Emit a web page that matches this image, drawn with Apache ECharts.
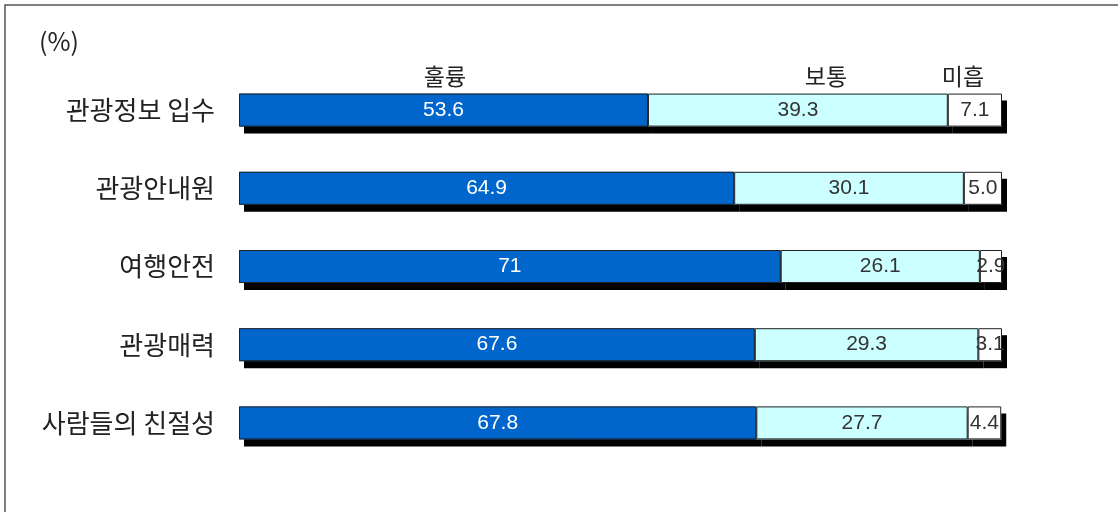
<!DOCTYPE html>
<html>
<head>
<meta charset="utf-8">
<script src="https://cdn.jsdelivr.net/npm/echarts@6/dist/echarts.min.js"></script>
<style>html,body{margin:0;padding:0;background:#fff;}#c{width:1118px;height:512px;}</style>
</head>
<body>
<div id="c"></div>
<script>
const categories = ['관광정보 입수', '관광안내원', '여행안전', '관광매력', '사람들의 친절성'];
const seriesNames = ['훌륭', '보통', '미흡'];
const excellent = [53.6, 64.9, 71, 67.6, 67.8];
const average = [39.3, 30.1, 26.1, 29.3, 27.7];
const poor = [7.1, 5.0, 2.9, 3.1, 4.4];

const chart = echarts.init(document.getElementById('c'));
const latin = '"Liberation Sans", Arial, sans-serif';
const kor = '"Noto Sans CJK KR", sans-serif';

function fillSeries(name, data, color) {
  return {
    name: name, type: 'bar', stack: 'fill', data: data, barWidth: 33, barGap: '-100%',
    itemStyle: {color: color, borderWidth: 0, shadowColor: '#000', shadowOffsetX: 5, shadowOffsetY: 7, shadowBlur: 0},
    label: {show: false}, silent: true, emphasis: {disabled: true}
  };
}
function lineSeries(name, data, labelColor, fmt) {
  return {
    name: name + ' ', type: 'bar', stack: 'line', data: data, barWidth: 33, barGap: '-100%',
    itemStyle: {color: 'rgba(0,0,0,0)', borderColor: '#222', borderWidth: 1},
    label: {show: true, position: 'inside', color: labelColor, fontFamily: latin, fontSize: 21,
      formatter: p => fmt(p.value)},
    silent: true, emphasis: {disabled: true}
  };
}
const t = (x, y, s) => ({type: 'text', x: x, y: y, style: {text: s, fontSize: 23, fontFamily: kor, fill: '#222', align: 'center', verticalAlign: 'middle'}});
chart.setOption({
  animation: false,
  grid: {left: 239, right: 116, top: 71, bottom: 50},
  xAxis: {type: 'value', min: 0, max: 100, show: false},
  yAxis: {type: 'category', data: categories, inverse: true,
    axisLine: {show: false}, axisTick: {show: false},
    axisLabel: {margin: 24, fontSize: 26, color: '#222', fontFamily: kor}},
  graphic: [
    {type: 'rect', shape: {x: 5, y: 5, width: 1400, height: 800}, style: {fill: 'none', stroke: '#555', lineWidth: 1.5}, silent: true},
    {type: 'text', x: 59, y: 41, style: {text: '(%)', fontSize: 25, fontFamily: kor, fill: '#222', align: 'center', verticalAlign: 'middle'}},
    t(445, 76, seriesNames[0]),
    t(826, 76, seriesNames[1]),
    t(963, 76, seriesNames[2])
  ],
  series: [
    fillSeries(seriesNames[0], excellent, '#0066CC'),
    fillSeries(seriesNames[1], average, '#CCFFFF'),
    fillSeries(seriesNames[2], poor, '#ffffff'),
    lineSeries(seriesNames[0], excellent, '#fff', v => String(v)),
    lineSeries(seriesNames[1], average, '#333', v => v.toFixed(1)),
    lineSeries(seriesNames[2], poor, '#333', v => v.toFixed(1))
  ]
});
</script>
</body>
</html>
